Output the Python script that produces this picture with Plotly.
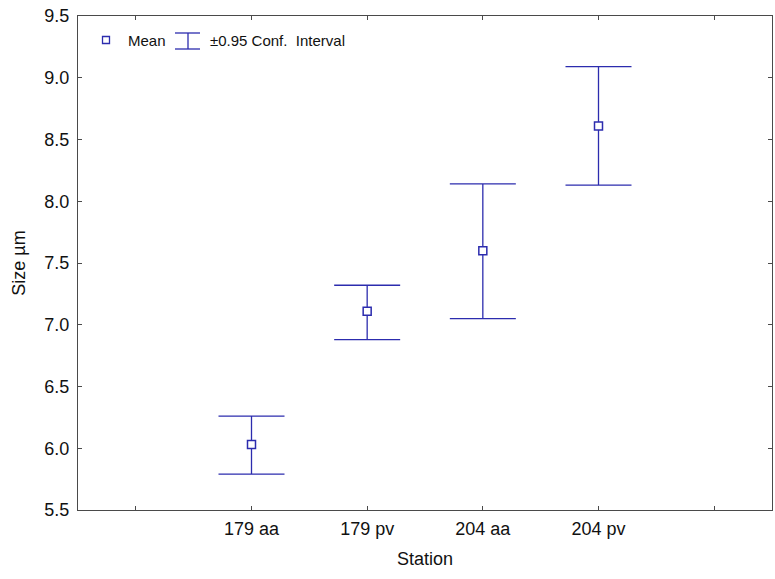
import plotly.graph_objects as go

# ---- data ----
categories = ["179 aa", "179 pv", "204 aa", "204 pv"]
means = [6.03, 7.11, 7.60, 8.61]
upper = [6.26, 7.32, 8.14, 9.09]
lower = [5.79, 6.88, 7.05, 8.13]
y_ticks = [5.5, 6.0, 6.5, 7.0, 7.5, 8.0, 8.5, 9.0, 9.5]

W, H = 775, 579
L, R, T, B = 78, 3, 16, 69
BLUE = "#2c2cae"
AXC = "#4a4a4a"
FONT = "Liberation Sans, Arial, sans-serif"

xpos = [i + 1 for i in range(len(categories))]
err_plus = [u - m for u, m in zip(upper, means)]
err_minus = [m - l for m, l in zip(means, lower)]

fig = go.Figure()
fig.add_trace(go.Scatter(
    x=xpos, y=means, mode="markers",
    marker=dict(symbol="square", size=8, color="white",
                line=dict(color=BLUE, width=1.5)),
    error_y=dict(type="data", symmetric=False, array=err_plus,
                 arrayminus=err_minus, width=33, color=BLUE, thickness=1.3),
    showlegend=False, cliponaxis=False,
))

pw, ph = W - L - R, H - T - B
def px(x):
    return (x - L) / pw
def py(y):
    return (H - B - y) / ph

shapes = []
# legend marker square
shapes.append(dict(type="rect", xref="paper", yref="paper",
                   x0=px(102.5), x1=px(109.5), y0=py(43.5), y1=py(36.5),
                   line=dict(color=BLUE, width=1.3), fillcolor="white"))
# legend error bar glyph
shapes.append(dict(type="line", xref="paper", yref="paper",
                   x0=px(175), x1=px(200), y0=py(33), y1=py(33),
                   line=dict(color=BLUE, width=1.3)))
shapes.append(dict(type="line", xref="paper", yref="paper",
                   x0=px(175), x1=px(200), y0=py(49), y1=py(49),
                   line=dict(color=BLUE, width=1.3)))
shapes.append(dict(type="line", xref="paper", yref="paper",
                   x0=px(188), x1=px(188), y0=py(33), y1=py(49),
                   line=dict(color=BLUE, width=1.3)))

annotations = [
    dict(text="Mean", xref="paper", yref="paper", x=px(126), y=py(41),
         xanchor="left", yanchor="middle", showarrow=False,
         font=dict(family=FONT, size=15, color="#111")),
    dict(text="±0.95 Conf.  Interval", xref="paper", yref="paper", x=px(208), y=py(41),
         xanchor="left", yanchor="middle", showarrow=False,
         font=dict(family=FONT, size=15, color="#111")),
]

fig.update_layout(
    width=W, height=H,
    margin=dict(l=L, r=R, t=T, b=B, pad=0),
    paper_bgcolor="white", plot_bgcolor="white",
    font=dict(family=FONT, size=18, color="#111"),
    shapes=shapes, annotations=annotations,
    xaxis=dict(
        range=[-0.5, 5.5], tickmode="array",
        tickvals=[0] + xpos + [len(categories) + 1],
        ticktext=[""] + categories + [""],
        ticks="inside", ticklen=4, tickcolor=AXC, tickwidth=1,
        showline=True, linecolor=AXC, linewidth=1.3, mirror="ticks",
        showgrid=False, zeroline=False,
        ticklabelstandoff=2,
        title=dict(text="Station", font=dict(size=18), standoff=14),
    ),
    yaxis=dict(
        range=[5.5, 9.5], tickmode="array", tickvals=y_ticks,
        ticktext=[f"{v:.1f}" for v in y_ticks],
        ticks="inside", ticklen=4, tickcolor=AXC, tickwidth=1,
        showline=True, linecolor=AXC, linewidth=1.3, mirror="ticks",
        showgrid=False, zeroline=False,
        ticklabelstandoff=4,
        title=dict(text="Size µm", font=dict(size=18), standoff=13),
    ),
)

fig.write_html("out.html")
